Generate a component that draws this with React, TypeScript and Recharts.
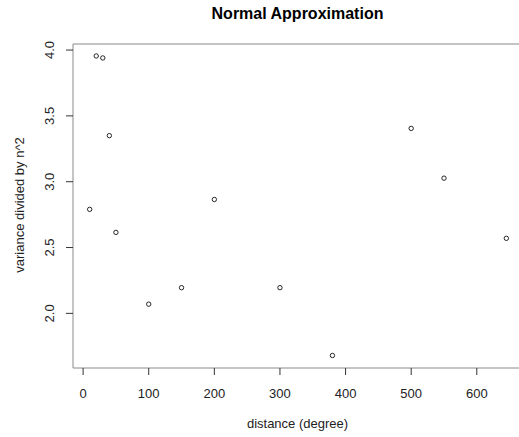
import React from 'react'
import {
  ScatterChart,
  Scatter,
  XAxis,
  YAxis,
  ReferenceLine,
} from 'recharts'

// distance in degrees and the variance / n^2
const distances = [10, 20, 30, 40, 50, 100, 150, 200, 300, 380, 500, 550, 645]
const variances = [2.79, 3.955, 3.94, 3.35, 2.615, 2.07, 2.195, 2.865, 2.195, 1.68, 3.405, 3.027, 2.57]

const xTicks = [0, 100, 200, 300, 400, 500, 600]
const yTicks = [2.0, 2.5, 3.0, 3.5, 4.0]

const xDomain = [-15.4, 670.4]
const yDomain = [1.585, 4.046]

const data = distances.map((d, i) => ({ x: d, y: variances[i] }))

const FONT = '"Liberation Sans", Arial, sans-serif'
const BOX = '#8a8a8a'
const TICK = '#333'

const XTick = (props: any) => {
  const { x, y, payload } = props
  return (
    <text x={x} y={y + 22.5} textAnchor="middle" fontSize={13} fontFamily={FONT} fill="#222">
      {payload.value}
    </text>
  )
}

const YTick = (props: any) => {
  const { x, y, payload } = props
  const bx = x - 11.5
  return (
    <text
      x={bx}
      y={y}
      transform={`rotate(-90 ${bx} ${y})`}
      textAnchor="middle"
      fontSize={13}
      fontFamily={FONT}
      fill="#222"
    >
      {Number(payload.value).toFixed(1)}
    </text>
  )
}

const Dot = (props: any) => {
  const { cx, cy } = props
  return <circle cx={cx} cy={cy} r={2.2} fill="none" stroke="#111" strokeWidth={0.9} />
}

export default function App() {
  return (
    <div style={{ position: 'absolute', left: 0, top: 0, width: 519, height: 437, overflow: 'hidden', background: '#fff' }}>
      <ScatterChart width={530} height={437} margin={{ top: 44, right: 7, left: 0, bottom: 0 }}>
        <XAxis
          type="number"
          dataKey="x"
          domain={xDomain}
          ticks={xTicks}
          allowDataOverflow
          height={69}
          tickSize={7}
          tickMargin={0}
          axisLine={{ stroke: BOX }}
          tickLine={{ stroke: TICK }}
          tick={<XTick />}
        />
        <YAxis
          type="number"
          dataKey="y"
          domain={yDomain}
          ticks={yTicks}
          allowDataOverflow
          width={73}
          tickSize={7}
          tickMargin={0}
          axisLine={{ stroke: BOX }}
          tickLine={{ stroke: TICK }}
          tick={<YTick />}
        />
        <ReferenceLine y={yDomain[1]} stroke={BOX} />
        <Scatter data={data} shape={<Dot />} isAnimationActive={false} />
      </ScatterChart>
      <svg width={519} height={437} style={{ position: 'absolute', left: 0, top: 0, pointerEvents: 'none' }}>
        <text x={297.5} y={19} textAnchor="middle" fontSize={16} fontWeight="bold" fontFamily={FONT} fill="#000">
          Normal Approximation
        </text>
        <text x={297.5} y={428} textAnchor="middle" fontSize={13} fontFamily={FONT} fill="#222">
          distance (degree)
        </text>
        <text
          x={23.5}
          y={205}
          transform="rotate(-90 23.5 205)"
          textAnchor="middle"
          fontSize={13}
          fontFamily={FONT}
          fill="#222"
        >
          variance divided by n^2
        </text>
      </svg>
    </div>
  )
}
